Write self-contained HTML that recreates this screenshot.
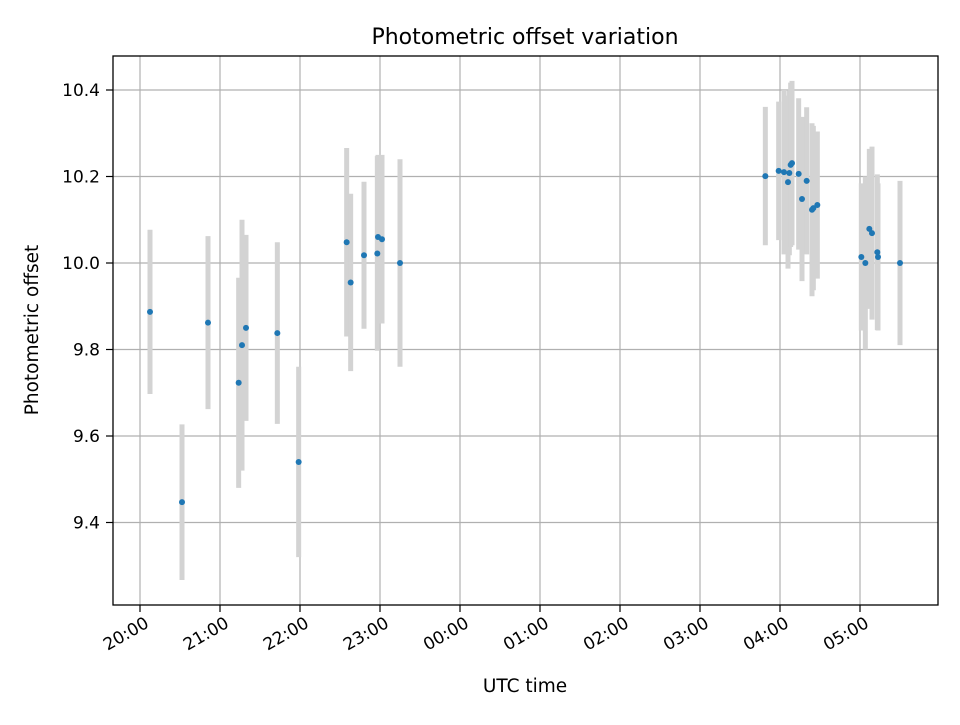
<!DOCTYPE html>
<html><head><meta charset="utf-8"><style>
body{margin:0;background:#fff}
svg text{font-family:"DejaVu Sans","Liberation Sans",sans-serif;fill:#000}
</style></head><body>
<svg id="chart" width="960" height="720" xmlns="http://www.w3.org/2000/svg">
<rect width="960" height="720" fill="#fff"/>
<g id="grid"></g>
<g id="errs"></g>
<g id="pts"></g>
<rect x="113" y="56" width="825" height="549" fill="none" stroke="#000" stroke-width="1.3"/>
<g id="ticks"></g>
<text x="525" y="44" text-anchor="middle" font-size="22px">Photometric offset variation</text>
<text x="525" y="692" text-anchor="middle" font-size="18.5px">UTC time</text>
<text transform="translate(38,330) rotate(-90)" text-anchor="middle" font-size="18.5px">Photometric offset</text>
</svg>
<script>
// minutes after 20:00
const times=[7.5,31.5,51,74,76.5,79.5,103,119,155,158,168,178,178.5,181.5,195,469,479,483,486,487,488,489,494,496.5,500,504,505,508,541,544,547,549,553,553.5,570];
const values=[9.887,9.447,9.862,9.723,9.81,9.85,9.838,9.54,10.048,9.955,10.018,10.022,10.06,10.055,10.0,10.201,10.213,10.21,10.187,10.208,10.227,10.231,10.206,10.148,10.19,10.123,10.127,10.134,10.014,10.0,10.079,10.069,10.025,10.014,10.0];
const errors=[0.19,0.18,0.2,0.243,0.29,0.215,0.21,0.22,0.218,0.205,0.17,0.225,0.19,0.195,0.24,0.16,0.16,0.19,0.2,0.19,0.19,0.19,0.175,0.19,0.17,0.2,0.19,0.17,0.17,0.2,0.185,0.2,0.18,0.17,0.19];
const xTickLabels=["20:00","21:00","22:00","23:00","00:00","01:00","02:00","03:00","04:00","05:00"];
const yTicks=[9.4,9.6,9.8,10.0,10.2,10.4];
const NS="http://www.w3.org/2000/svg";
const xs=m=>140+m*80/60;
const ys=v=>263-(v-10)*432.5;
function mk(tag,attrs,parent){const e=document.createElementNS(NS,tag);for(const k in attrs)e.setAttribute(k,attrs[k]);parent.appendChild(e);return e;}
const grid=document.getElementById('grid'),ticks=document.getElementById('ticks'),errs=document.getElementById('errs'),pts=document.getElementById('pts');
xTickLabels.forEach((lab,i)=>{const x=xs(i*60);
 const g=mk('line',{x1:x,x2:x,y1:56,y2:605,stroke:'#b0b0b0','stroke-width':1.2},grid);
 
 const t=mk('line',{x1:x,x2:x,y1:605,y2:612,stroke:'#000','stroke-width':1.2},ticks);
 
 const ax=x+4,ay=616;
 const tx=mk('text',{x:ax,y:ay,'font-size':'17px','text-anchor':'end','dominant-baseline':'hanging',transform:`rotate(-30 ${ax} ${ay})`},ticks);
 tx.textContent=lab;
 
});
yTicks.forEach(v=>{const y=ys(v);
 const g=mk('line',{x1:113,x2:938,y1:y,y2:y,stroke:'#b0b0b0','stroke-width':1.2},grid);
 
 const t=mk('line',{x1:106,x2:113,y1:y,y2:y,stroke:'#000','stroke-width':1.2},ticks);
 
 const tx=mk('text',{x:100,y:y+6,'font-size':'17px','text-anchor':'end'},ticks);
 tx.textContent=v.toFixed(1);
 
});
times.forEach((m,i)=>{const x=xs(m);
 const e=mk('line',{x1:x,x2:x,y1:ys(values[i]+errors[i]),y2:ys(values[i]-errors[i]),stroke:'#d3d3d3','stroke-width':5},errs);
 
});
times.forEach((m,i)=>{
 const c=mk('circle',{cx:xs(m),cy:ys(values[i]),r:3,fill:'#1f77b4'},pts);
 
});
</script>
</body></html>
